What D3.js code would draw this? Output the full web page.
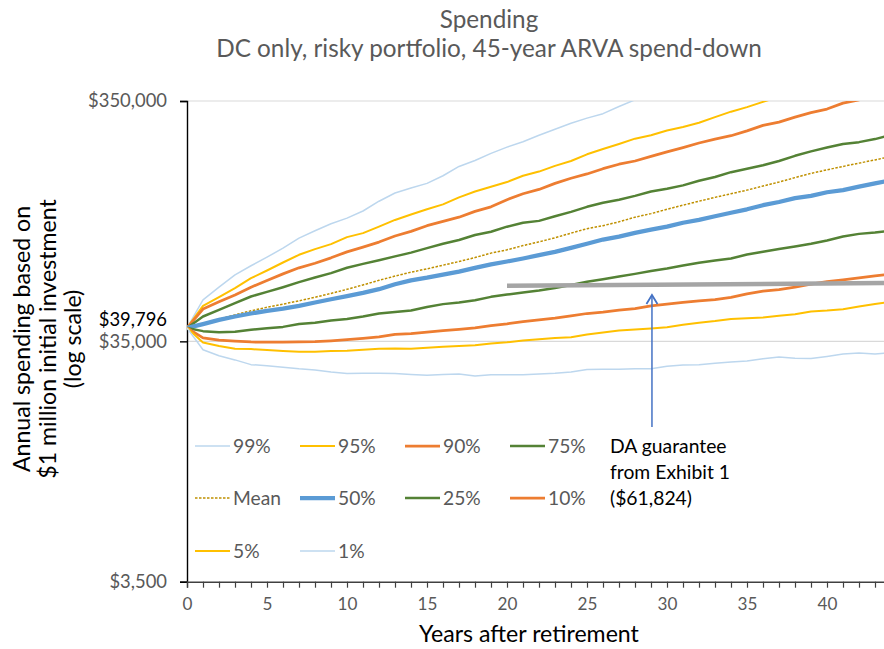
<!DOCTYPE html>
<html><head><meta charset="utf-8">
<script src="https://cdn.jsdelivr.net/npm/d3@7"></script>
<style>
body{margin:0;background:#fff;}
svg{display:block;font-family:Lato,'Open Sans',sans-serif;}
</style>
</head><body>
<svg id="c" width="884" height="649"></svg>
<script>
// ---------------- DATA ----------------
const years = [0,1,2,3,4,5,6,7,8,9,10,11,12,13,14,15,16,17,18,19,20,21,22,23,24,25,26,27,28,29,30,31,32,33,34,35,36,37,38,39,40,41,42,43,44];
const p99 = [39796,52100,58800,66200,72200,78400,85500,94100,101000,108000,114000,122000,134000,145000,152000,159000,171000,187000,198000,212000,225000,237000,252000,267000,283000,297000,310000,332000,354000,375000,397000,417000,437000,463000,486000,510000,540000,566000,594000,629000,660000,693000,733000,770000,807000];
const p95 = [39796,49200,53500,58300,64100,69000,74500,80200,84700,88800,95000,98700,105000,112000,118000,124000,130000,139000,147000,154000,161000,171000,178000,188000,197000,210000,221000,232000,244000,252000,264000,273000,284000,300000,316000,330000,347000,365000,382000,401000,421000,441000,463000,486000,510000];
const p90 = [39796,47700,51100,54600,58800,62700,66800,70800,74000,77900,82500,86300,90600,96000,100400,106000,110500,115000,121600,127000,136000,144000,150000,159000,167000,174000,183000,191000,197000,206000,215000,224000,234000,243000,251000,263000,277000,286000,300000,313000,324000,343000,354000,370000,386000];
const p75 = [39796,44400,47300,50500,53800,56200,58800,61700,64500,67300,70800,73500,76100,79000,81900,85500,89100,92400,96900,100000,105000,109000,111000,116000,121000,127000,132000,136000,141000,147000,151000,156000,163000,169000,177000,183000,189000,197000,207000,216000,224000,232000,236000,243000,253000];
const pMean = [39796,41600,43400,45100,46900,48500,50000,51600,53400,55400,57600,60100,62800,65400,67900,70100,72600,75200,78100,81500,84100,87600,90800,94400,98700,103000,106000,110000,115000,119000,124000,129000,134000,139000,144000,149000,155000,161000,168000,175000,181000,187000,193000,199000,206000];
const p50 = [39796,41300,43000,44400,45700,46900,47900,49200,50800,52400,54000,55700,57700,60500,62800,64400,66300,68300,70800,73200,75200,77400,79900,82500,85700,89100,92800,95500,99000,102000,105000,109000,112000,116000,120000,124000,129000,133000,138000,141000,146000,149000,154000,159000,164000];
const p25 = [39796,38600,38200,38400,39100,39700,40200,41300,41800,42700,43400,44400,45700,46400,47000,48600,50000,50800,51900,53600,54800,55900,57000,58400,60100,61900,63500,65100,66800,68600,70300,72400,74300,75900,77400,80400,82500,84700,86800,89100,92000,95500,98000,99300,101000];
const p10 = [39796,36200,35400,35100,34800,34700,34700,34800,34900,35200,35600,36000,36500,37400,37700,38200,38800,39300,39800,40700,41400,42300,43000,43700,44700,45700,46300,47200,47900,49200,50000,50800,51600,52200,53300,55200,56600,57500,58800,60500,62100,63100,64300,65600,66600];
const p5 = [39796,34600,33500,32600,32500,32200,31900,31700,31700,31900,32000,32300,32600,32700,32600,32900,33200,33500,33700,34300,34700,35300,35700,36100,36400,37400,38100,38800,39200,39600,40100,41000,41800,42500,43400,43700,44000,44700,45400,46600,47000,47600,48900,50100,51000];
const p1 = [39796,32300,30500,29300,28000,27700,27300,26900,26600,26100,25700,25800,25800,25700,25500,25300,25500,25600,25100,25400,25400,25400,25600,25800,26100,26700,26800,26800,26900,26900,27600,27900,28000,28400,28700,29000,29600,30100,29800,29700,30300,31000,31300,31000,31400];
const daYears = [20, 44];
const daValues = [59600, 61200];
const startValue = 39796;
const yTickValues = [3500, 35000, 350000];
const seriesNames = ["99%","95%","90%","75%","Mean","50%","25%","10%","5%","1%"];
const seriesValues = [p99,p95,p90,p75,pMean,p50,p25,p10,p5,p1];
const titleLines = ["Spending","DC only, risky portfolio, 45-year ARVA spend-down"];
const yTitleLines = ["Annual spending based on","$1 million initial investment","(log scale)"];
const xTitle = "Years after retirement";
const noteLines = ["DA guarantee","from Exhibit 1","($61,824)"];
const arrowYear = 29.06;

// ---------------- STYLES ----------------
const styles = {
  "99%":{c:"#BDD7EE",w:1.5}, "1%":{c:"#BDD7EE",w:1.5},
  "95%":{c:"#FFC000",w:2}, "5%":{c:"#FFC000",w:2},
  "90%":{c:"#ED7D31",w:2.75}, "10%":{c:"#ED7D31",w:2.75},
  "75%":{c:"#548235",w:2.5}, "25%":{c:"#548235",w:2.5},
  "Mean":{c:"#BF9000",w:1.5,dash:"2.5,1.5"},
  "50%":{c:"#5B9BD5",w:4.25}
};

const L = {left:187, right:884, top:101, bottom:581.7, xEnd:891};
const svg = d3.select("#c");
svg.append("rect").attr("width",884).attr("height",649).attr("fill","#fff");

const x = d3.scaleLinear().domain([0,44]).range([L.left, L.xEnd]);
const y = d3.scaleLog().domain([3500,350000]).range([L.bottom, L.top]);

function fit(sel, target){
  const w = sel.node().getComputedTextLength();
  const fs = parseFloat(sel.attr("font-size"));
  const n = fs*target/w;
  sel.attr("font-size", n);
  return n;
}

// title
const t2 = svg.append("text").attr("x",489).attr("y",57).attr("text-anchor","middle")
  .attr("fill","#595959").attr("font-size",20).text(titleLines[1]);
const tfs = fit(t2, 546);
svg.append("text").attr("x",489).attr("y",28).attr("text-anchor","middle")
  .attr("fill","#595959").attr("font-size",tfs).text(titleLines[0]);

// gridlines
svg.append("g").selectAll("line").data([35000,350000]).join("line")
  .attr("x1",L.left).attr("x2",L.right).attr("y1",d=>y(d)).attr("y2",d=>y(d))
  .attr("stroke","#D9D9D9").attr("stroke-width",1.2);

// y axis
const gy = svg.append("g").attr("transform",`translate(${L.left},0)`)
  .call(d3.axisLeft(y).tickValues(yTickValues).tickSize(7).tickPadding(13).tickFormat(d3.format("$,")));
gy.attr("font-family",null).attr("font-size",null);
gy.select(".domain").attr("stroke","#000").attr("stroke-width",1.4);
gy.selectAll(".tick line").attr("stroke","#000").attr("stroke-width",1.4);
gy.selectAll(".tick text").attr("fill","#595959").attr("font-size",18);
const topLabel = gy.selectAll(".tick text").filter(d=>d===350000);
const lfs = fit(topLabel, 79);
gy.selectAll(".tick text").attr("font-size",lfs);

svg.append("text").attr("x",L.left-20).attr("y",320).attr("dy","0.35em")
  .attr("text-anchor","end").attr("fill","#000").attr("font-size",lfs).text(d3.format("$,")(startValue));

// x axis
const gx = svg.append("g").attr("transform",`translate(0,${L.bottom})`)
  .call(d3.axisBottom(x).tickValues(years).tickSize(6).tickPadding(10).tickFormat(d=> d%5===0 ? d : ""));
gx.attr("font-family",null).attr("font-size",null);
gx.select(".domain").attr("stroke","#404040").attr("stroke-width",1.4);
gx.selectAll(".tick line").attr("stroke","#404040").attr("stroke-width",1.2);
gx.selectAll(".tick text").attr("fill","#595959").attr("font-size",lfs*0.93);

const xt = svg.append("text").attr("x",529).attr("y",642).attr("text-anchor","middle")
  .attr("fill","#000").attr("font-size",17).text(xTitle);
const afs = fit(xt, 220);

// y title
const yPos = [21,47,72];
yTitleLines.forEach((s,i)=>{
  svg.append("text").attr("transform",`translate(${yPos[i]},339) rotate(-90)`)
    .attr("text-anchor","middle").attr("dominant-baseline","central")
    .attr("fill","#000").attr("font-size",afs).text(s);
});

// lines
svg.append("clipPath").attr("id","plot").append("rect")
  .attr("x",L.left).attr("y",L.top).attr("width",L.right-L.left).attr("height",L.bottom-L.top);
const line = d3.line().x((d,i)=>x(years[i])).y(d=>y(d));
const gl = svg.append("g").attr("clip-path","url(#plot)");
seriesNames.forEach((n,k)=>{
  const s = styles[n];
  gl.append("path").datum(seriesValues[k]).attr("d",line)
    .attr("fill","none").attr("stroke",s.c).attr("stroke-width",s.w)
    .attr("stroke-dasharray",s.dash||null).attr("stroke-linejoin","round");
});
const daLine = d3.line().x((d,i)=>x(daYears[i])).y(d=>y(d));
gl.append("path").datum(daValues).attr("d",daLine).attr("fill","none")
  .attr("stroke","#A5A5A5").attr("stroke-width",4.5);

// legend
const lg = svg.append("g");
let legFs = afs;
seriesNames.forEach((n,k)=>{
  const col = k%4, row = Math.floor(k/4);
  const lx = 195 + col*105, ly = [446,498,551][row];
  const s = styles[n];
  lg.append("line").attr("x1",lx).attr("x2",lx+35).attr("y1",ly).attr("y2",ly)
    .attr("stroke",s.c).attr("stroke-width",s.w).attr("stroke-dasharray",s.dash||null);
  lg.append("text").attr("class","lt").attr("x",lx+38).attr("y",ly).attr("dy","0.35em")
    .attr("fill","#595959").attr("font-size",afs).text(n);
});
legFs = fit(lg.selectAll(".lt").filter(d=>false).empty() ? lg.selectAll(".lt").filter(function(){return this.textContent==="Mean";}) : null, 48);
lg.selectAll(".lt").attr("font-size",legFs);

// annotation
const ag = svg.append("g");
noteLines.forEach((s,i)=>{
  ag.append("text").attr("class","nt").attr("x",610).attr("y",446+26*i).attr("dy","0.35em")
    .attr("fill","#000").attr("font-size",afs).text(s);
});
const nfs = fit(ag.selectAll(".nt").filter(function(){return this.textContent===noteLines[1];}), 120);
ag.selectAll(".nt").attr("font-size",nfs);
const ax = x(arrowYear);
ag.append("line").attr("x1",ax).attr("x2",ax).attr("y1",427).attr("y2",296)
  .attr("stroke","#4472C4").attr("stroke-width",1.5);
ag.append("path").attr("d",`M${ax-5.5},${304} L${ax},${295} L${ax+5.5},${304}`)
  .attr("fill","none").attr("stroke","#4472C4").attr("stroke-width",1.8);
</script>
</body></html>
